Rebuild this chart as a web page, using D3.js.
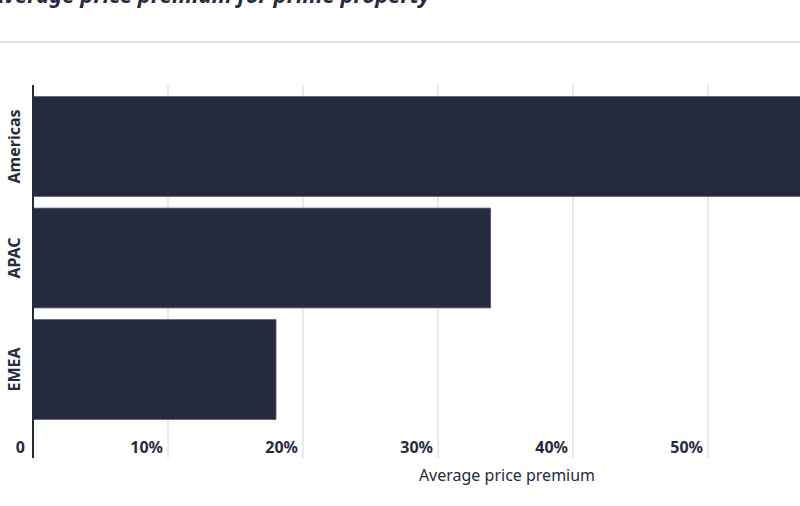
<!DOCTYPE html>
<html>
<head>
<meta charset="utf-8">
<script src="https://cdn.jsdelivr.net/npm/d3@7"></script>
<style>
  body { margin: 0; background: #fff; }
  text { font-family: "Noto Sans", sans-serif; }
</style>
</head>
<body>
<div id="chart"></div>
<script>
// data
var regions = ["Americas", "APAC", "EMEA"];
var premiums = [60, 33.9, 18.0];
var tickValues = [0, 10, 20, 30, 40, 50];

var svgWidth = 800;
var svgHeight = 506;

var svg = d3.select("#chart")
  .append("svg")
  .attr("width", svgWidth)
  .attr("height", svgHeight);

// title (cut off at top in the reference) and rule
svg.append("text")
  .attr("x", -10)
  .attr("y", 3)
  .attr("font-size", "22px")
  .attr("font-weight", "bold")
  .attr("font-style", "italic")
  .attr("fill", "#262a3d")
  .text("Average price premium for prime property");

svg.append("rect")
  .attr("x", 0).attr("y", 41)
  .attr("width", svgWidth).attr("height", 2)
  .attr("fill", "#dde1e6");

var x = d3.scaleLinear().domain([0, 10]).range([33, 168]);
var y = d3.scaleBand().domain(regions).range([91, 425]).paddingInner(0.105).paddingOuter(0.05);

var plotTop = 85, plotBottom = 458;

// gridlines
svg.selectAll(".grid")
  .data(tickValues.filter(d => d > 0))
  .enter()
  .append("line")
  .attr("x1", d => x(d)).attr("x2", d => x(d))
  .attr("y1", plotTop).attr("y2", plotBottom)
  .attr("stroke", "#d6d6d9")
  .attr("stroke-width", 1);

// bars
svg.selectAll(".bar")
  .data(regions)
  .enter()
  .append("rect")
  .attr("x", x(0))
  .attr("y", d => y(d))
  .attr("width", (d, i) => x(premiums[i]) - x(0))
  .attr("height", y.bandwidth())
  .attr("fill", "#262a3d")
  .attr("stroke", "#5a5e6e")
  .attr("stroke-width", 0.8);

// y axis line
svg.append("line")
  .attr("x1", 33).attr("x2", 33)
  .attr("y1", plotTop).attr("y2", plotBottom)
  .attr("stroke", "#262a3d")
  .attr("stroke-width", 2);

// category labels
svg.selectAll(".cat")
  .data(regions)
  .enter()
  .append("text")
  .attr("transform", d => `translate(20, ${y(d) + y.bandwidth() / 2}) rotate(-90)`)
  .attr("text-anchor", "middle")
  .attr("font-size", "16px")
  .attr("font-weight", "bold")
  .attr("fill", "#262a3d")
  .text(d => d);

// tick labels
svg.selectAll(".tick")
  .data(tickValues)
  .enter()
  .append("text")
  .attr("x", d => d === 0 ? x(d) - 8 : x(d) - 5)
  .attr("y", 453)
  .attr("text-anchor", "end")
  .attr("font-size", "16px")
  .attr("font-weight", "bold")
  .attr("fill", "#262a3d")
  .text(d => d === 0 ? "0" : d + "%");

// axis title
svg.append("text")
  .attr("x", 507)
  .attr("y", 481)
  .attr("text-anchor", "middle")
  .attr("font-size", "16px")
  .attr("fill", "#262a3d")
  .text("Average price premium");
</script>
</body>
</html>
